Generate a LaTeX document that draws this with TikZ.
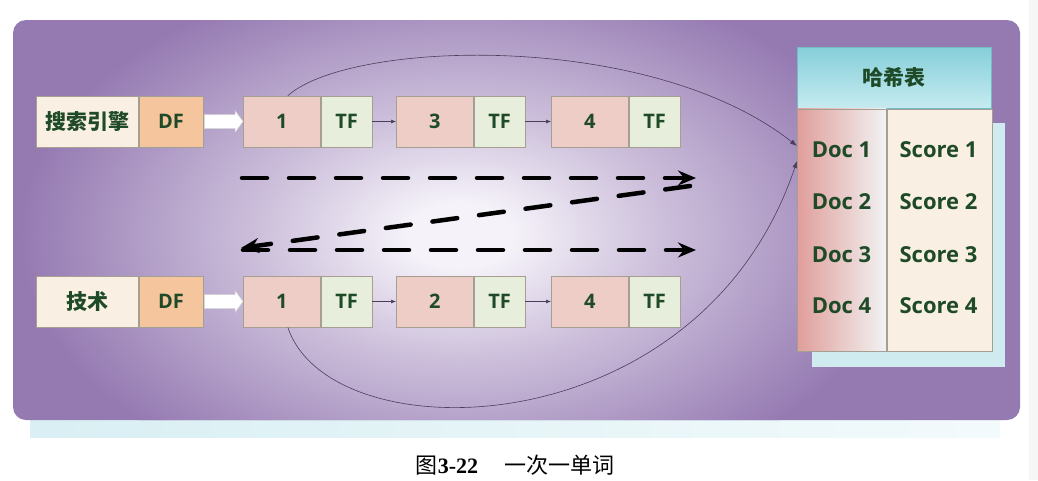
\documentclass[tikz,border=0pt]{standalone}
\usepackage{fontspec}
\setmainfont{Liberation Serif}
\newfontfamily\cjk{Noto Sans CJK SC}
\newfontfamily\lab{Open Sans}
\usetikzlibrary{arrows.meta,calc}
\definecolor{bgp}{HTML}{957AB2}
\definecolor{glowc}{HTML}{F5F2F9}
\definecolor{dkgreen}{HTML}{1F4A28}
\definecolor{cream}{HTML}{F9EFE2}
\definecolor{dforange}{HTML}{F5C69E}
\definecolor{numpink}{HTML}{EDCDC6}
\definecolor{tfgreen}{HTML}{E7EEDB}
\definecolor{cellline}{HTML}{A59E92}
\definecolor{hdtop}{HTML}{86CFDA}
\definecolor{hdbot}{HTML}{C6EBF0}
\definecolor{hline}{HTML}{72BCC6}
\definecolor{shadowc}{HTML}{CFEBF0}
\definecolor{pinkL}{HTML}{E09E9A}
\definecolor{whiteish}{HTML}{F1F3F3}
\definecolor{curvec}{HTML}{4A3F5A}
\pgfdeclareradialshading{glow}{\pgfpoint{0bp}{0bp}}{color(0bp)=(glowc); color(3bp)=(glowc); color(11bp)=(glowc!60!bgp); color(18bp)=(glowc!30!bgp); color(25bp)=(bgp); color(50bp)=(bgp)}
\begin{document}
\begin{tikzpicture}[x=1pt,y=-1pt,
  cell/.style={draw=cellline, line width=0.7pt, minimum height=51pt, inner sep=0pt,
    font=\lab\bfseries\fontsize{20}{20}\selectfont, text=dkgreen, anchor=west},
  term/.style={cell, fill=cream, minimum width=102pt, font=\cjk\bfseries\fontsize{21}{21}\selectfont},
  dfcell/.style={cell, fill=dforange, minimum width=64pt},
  numcell/.style={cell, fill=numpink, minimum width=77pt},
  tfcell/.style={cell, fill=tfgreen, minimum width=51pt},
  link/.style={draw=curvec, line width=0.6pt, -{Latex[length=5pt,width=4pt]}},
  curve/.style={draw=curvec, line width=0.6pt, -{Latex[length=7pt,width=5pt]}},
  bigdash/.style={line width=4.5pt, line cap=round, dash pattern=on 25pt off 22pt, -{Stealth[length=18pt,width=15pt,inset=6pt]}},
  blockarrow/.style={fill=white, draw=gray!35, line width=0.5pt},
  htext/.style={font=\lab\bfseries\fontsize{22}{22}\selectfont, text=dkgreen, inner sep=0pt}]
\useasboundingbox (0,0) rectangle (1038,480);
\fill[white] (0,0) rectangle (1038,480);
\fill[gray!7] (1029,0) rectangle (1038,480);
% shadow strip below panel
\shade[left color=shadowc!80, right color=shadowc!25] (30,405) rectangle (1000,437);
% panel
\fill[bgp, rounded corners=13pt] (13,20) rectangle (1020,420);
\begin{scope}
\clip[rounded corners=13pt] (13,20) rectangle (1020,420);
\shade[shading=glow] (460,235) ellipse [x radius=440pt, y radius=270pt];
\end{scope}
% hash table
\fill[shadowc] (812,123) rectangle (1005,367);
\node[draw=hline, line width=0.6pt, top color=hdtop, bottom color=hdbot, minimum width=194pt, minimum height=61pt,
  anchor=north west, inner sep=0pt, font=\cjk\bfseries\fontsize{21}{21}\selectfont, text=dkgreen] (hd) at (797,47) {哈希表};
\node[draw=cellline, line width=0.6pt, left color=pinkL, right color=whiteish, minimum width=89pt, minimum height=242pt,
  anchor=north west, inner sep=0pt] (dk) at (hd.south west) {};
\node[draw=cellline, line width=0.6pt, fill=cream, minimum width=105pt, minimum height=242pt,
  anchor=north west, inner sep=0pt] (sc) at (dk.north east) {};
\node[htext] (d1t) at (841.5,150) {Doc 1};
\node[htext] (d2t) at (841.5,202) {Doc 2};
\node[htext] (d3t) at (841.5,255) {Doc 3};
\node[htext] (d4t) at (841.5,306) {Doc 4};
\node[htext] (s1t) at (938.5,150) {Score 1};
\node[htext] (s2t) at (938.5,202) {Score 2};
\node[htext] (s3t) at (938.5,255) {Score 3};
\node[htext] (s4t) at (938.5,306) {Score 4};
% row 1
\node[term] (t1) at (36,121.5) {搜索引擎};
\node[dfcell] (df1) at (t1.east) {DF};
\node[numcell] (a1) at (243,121.5) {1};
\node[tfcell] (a1t) at (a1.east) {TF};
\node[numcell] (b1) at (396,121.5) {3};
\node[tfcell] (b1t) at (b1.east) {TF};
\node[numcell] (c1) at (551,121.5) {4};
\node[tfcell] (c1t) at (c1.east) {TF};
% row 2
\node[term] (t2) at (36,301.5) {技术};
\node[dfcell] (df2) at (t2.east) {DF};
\node[numcell] (a2) at (243,301.5) {1};
\node[tfcell] (a2t) at (a2.east) {TF};
\node[numcell] (b2) at (396,301.5) {2};
\node[tfcell] (b2t) at (b2.east) {TF};
\node[numcell] (c2) at (551,301.5) {4};
\node[tfcell] (c2t) at (c2.east) {TF};
% small links
\draw[link] (a1t.east) -- (b1.west);
\draw[link] (b1t.east) -- (c1.west);
\draw[link] (a2t.east) -- (b2.west);
\draw[link] (b2t.east) -- (c2.west);
% block arrows
\foreach \d/\n in {df1/a1, df2/a2}{
  \path[blockarrow] ($(\d.east)+(1,-7)$) -- ($(\n.west)+(-8,-7)$) -- ($(\n.west)+(-8,-11)$) -- (\n.west)
    -- ($(\n.west)+(-8,11)$) -- ($(\n.west)+(-8,7)$) -- ($(\d.east)+(1,7)$) -- cycle;
}
% curves to hash table
\coordinate (in1) at (797,146);
\coordinate (in2) at (797,161);
\draw[curve] ($(a1.north)+(6,0)$) .. controls (350,40) and (650,30) .. (in1);
\draw[curve] ($(a2.south)+(6,0)$) .. controls (330,455) and (700,450) .. (in2);
% dashed arrows
\coordinate (p1) at (242,178);
\coordinate (p2) at (696,178);
\coordinate (p3) at (690,186);
\coordinate (p4) at (241,248);
\coordinate (p5) at (243,250);
\coordinate (p6) at (696,250);
\draw[bigdash] (p1) -- (p2);
\draw[bigdash] (p3) -- (p4);
\draw[bigdash] (p5) -- (p6);
% caption
\node[font=\fontsize{22}{22}\selectfont, inner sep=0pt] (cap) at (515,465)
  {{\cjk 图}\textbf{3-22}\hspace{26pt}{\cjk 一次一单词}};
\end{tikzpicture}
\end{document}
